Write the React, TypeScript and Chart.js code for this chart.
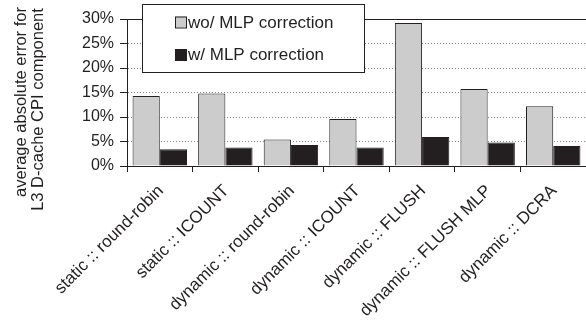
import React, { useEffect, useRef } from "react";
import { Chart, registerables } from "chart.js";

Chart.register(...registerables);

const categories = [
  "static :: round-robin",
  "static :: ICOUNT",
  "dynamic :: round-robin",
  "dynamic :: ICOUNT",
  "dynamic :: FLUSH",
  "dynamic :: FLUSH MLP",
  "dynamic :: DCRA",
];
const withoutMLP = [14.3, 14.8, 5.4, 9.6, 29.2, 15.7, 12.2];
const withMLP = [3.4, 3.8, 4.3, 3.8, 5.9, 4.8, 4.1];
const seriesNames = ["wo/ MLP correction", "w/ MLP correction"];
const yTitle = ["average absolute error for", "L3 D-cache CPI component"];
const yMax = 30;
const yStep = 5;

const DARK = "#231f20";
const GRAY = "#cccccc";
const FONT = "'Liberation Sans', Arial, sans-serif";

const overlayPlugin = {
  id: "overlay",
  afterDatasetsDraw(chart: any) {
    const { ctx, chartArea } = chart;
    ctx.save();
    // solid top line
    ctx.strokeStyle = DARK;
    ctx.lineWidth = 1;
    ctx.beginPath();
    ctx.moveTo(chartArea.left, Math.round(chartArea.top) + 0.5);
    ctx.lineTo(chartArea.right, Math.round(chartArea.top) + 0.5);
    ctx.stroke();

    // legend box
    const bx = 142, by = 4, bw = 222, bh = 68;
    ctx.fillStyle = "#ffffff";
    ctx.fillRect(bx, by, bw, bh);
    ctx.strokeStyle = DARK;
    ctx.strokeRect(bx + 0.5, by + 0.5, bw, bh);
    const items = [
      { label: seriesNames[0], fill: GRAY, y: 22 },
      { label: seriesNames[1], fill: DARK, y: 54.5 },
    ];
    ctx.font = `17px ${FONT}`;
    ctx.textBaseline = "middle";
    ctx.textAlign = "left";
    for (const it of items) {
      ctx.fillStyle = it.fill;
      ctx.fillRect(175, it.y - 5.5, 11, 11);
      ctx.strokeStyle = DARK;
      ctx.strokeRect(175.5, it.y - 5, 11, 11);
      ctx.fillStyle = DARK;
      ctx.fillText(it.label, 188, it.y + 1);
    }

    // y axis title
    ctx.font = `16.5px ${FONT}`;
    ctx.fillStyle = DARK;
    ctx.textAlign = "center";
    ctx.textBaseline = "middle";
    const pos = [
      [21, 102],
      [38, 109.5],
    ];
    yTitle.forEach((t, i) => {
      ctx.save();
      ctx.translate(pos[i][0], pos[i][1]);
      ctx.rotate(-Math.PI / 2);
      ctx.fillText(t, 0, 0);
      ctx.restore();
    });
    ctx.restore();
  },
};

export default function App() {
  const ref = useRef<HTMLCanvasElement | null>(null);
  useEffect(() => {
    if (!ref.current) return;
    const chart = new Chart(ref.current, {
      type: "bar",
      data: {
        labels: categories,
        datasets: [
          {
            label: seriesNames[0],
            data: withoutMLP,
            backgroundColor: GRAY,
            borderColor: DARK,
            borderWidth: 1,
            categoryPercentage: 0.83,
            barPercentage: 1,
          },
          {
            label: seriesNames[1],
            data: withMLP,
            backgroundColor: DARK,
            borderColor: DARK,
            borderWidth: 1,
            categoryPercentage: 0.83,
            barPercentage: 1,
          },
        ],
      },
      options: {
        animation: false,
        responsive: true,
        maintainAspectRatio: false,
        layout: { padding: { top: 19, right: 0, left: 0, bottom: 0 } },
        plugins: {
          legend: { display: false },
          tooltip: { enabled: false },
        },
        scales: {
          x: {
            type: "category",
            offset: true,
            grid: {
              offset: true,
              drawOnChartArea: false,
              drawTicks: true,
              tickLength: 6,
              tickColor: DARK,
            },
            border: { display: true, color: DARK, width: 1 },
            ticks: {
              autoSkip: false,
              maxRotation: 45,
              minRotation: 45,
              color: DARK,
              font: { size: 17, family: FONT },
              padding: 9,
              labelOffset: 1,
            },
            afterFit: (s: any) => {
              s.height = 156;
            },
          },
          y: {
            min: 0,
            max: yMax,
            ticks: {
              stepSize: yStep,
              callback: (v: any) => v + "%",
              color: DARK,
              font: { size: 16, family: FONT },
              padding: 6,
            },
            grid: {
              color: (c: any) =>
                c.tick && (c.tick.value === 0 || c.tick.value === yMax)
                  ? "rgba(0,0,0,0)"
                  : "#8a8a8a",
              tickColor: DARK,
              tickLength: 7,
              drawTicks: true,
            },
            border: { display: true, color: DARK, width: 1, dash: [1, 2] },
            afterFit: (s: any) => {
              s.width = 127;
            },
          },
        },
      },
      plugins: [overlayPlugin],
    });
    return () => chart.destroy();
  }, []);
  return (
    <div style={{ position: "absolute", left: 0, top: 0, width: 586, height: 322, background: "#fff" }}>
      <canvas ref={ref} />
    </div>
  );
}
